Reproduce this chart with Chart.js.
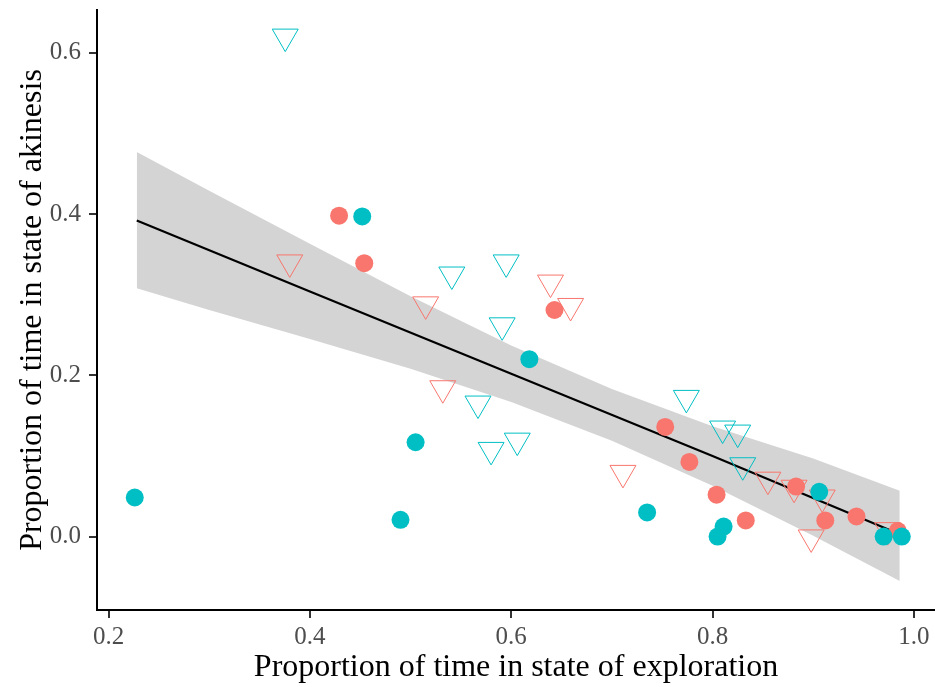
<!DOCTYPE html>
<html>
<head>
<meta charset="utf-8">
<script src="https://cdn.jsdelivr.net/npm/chart.js@4.4.1/dist/chart.umd.min.js"></script>
<style>
  body { margin: 0; background: #fff; }
  #wrap { width: 935px; height: 687px; }
</style>
</head>
<body>
<div id="wrap"><canvas id="myChart" width="935" height="687"></canvas></div>
<script>
// points
var tealCircleX = [0.226, 0.452, 0.490, 0.505, 0.618, 0.735, 0.811, 0.805, 0.906, 0.970, 0.988];
var tealCircleY = [0.0485, 0.397, 0.0208, 0.117, 0.220, 0.030, 0.0125, 0.0, 0.0556, 0.0, 0.0];
var redCircleX = [0.429, 0.454, 0.643, 0.753, 0.777, 0.804, 0.833, 0.883, 0.912, 0.943, 0.984];
var redCircleY = [0.398, 0.339, 0.281, 0.136, 0.0926, 0.052, 0.020, 0.062, 0.020, 0.025, 0.007];
var tealTriX = [0.3755, 0.541, 0.595, 0.591, 0.567, 0.580, 0.606, 0.774, 0.810, 0.825, 0.830];
var tealTriY = [0.620, 0.325, 0.340, 0.262, 0.165, 0.1075, 0.119, 0.172, 0.134, 0.129, 0.0885];
var redTriX = [0.380, 0.515, 0.639, 0.659, 0.532, 0.711, 0.855, 0.881, 0.909, 0.898, 0.974];
var redTriY = [0.340, 0.288, 0.315, 0.286, 0.184, 0.079, 0.0706, 0.0606, 0.0485, -0.001, 0.008];

// fitted line + confidence band
var fitX = [0.228, 0.4, 0.6, 0.8, 0.986];
var fitY = [0.392, 0.304, 0.202, 0.100, 0.003];
var bandX = [0.228, 0.3, 0.4, 0.5, 0.6, 0.7, 0.8, 0.9, 0.986];
var bandUpper = [0.477, 0.429, 0.363, 0.298, 0.237, 0.183, 0.137, 0.097, 0.057];
var bandLower = [0.308, 0.281, 0.245, 0.208, 0.167, 0.119, 0.063, 0.001, -0.055];

var xTicks = [0.2, 0.4, 0.6, 0.8, 1.0];
var yTicks = [0.0, 0.2, 0.4, 0.6];

var RED = "#F8766D", TEAL = "#00BFC4";

function pts(xs, ys) {
  return xs.map(function (x, i) { return { x: x, y: ys[i] }; });
}

function circles(xs, ys, col) {
  return {
    data: pts(xs, ys), order: 1,
    pointStyle: "circle", pointRadius: 9,
    pointBackgroundColor: col, pointBorderWidth: 0
  };
}
function triangles(xs, ys, col) {
  return {
    data: pts(xs, ys), order: 1,
    pointStyle: "triangle", pointRotation: 180, pointRadius: 15,
    pointBackgroundColor: "rgba(0,0,0,0)", pointBorderColor: col, pointBorderWidth: 1
  };
}

var tickFont = { family: "Liberation Serif", size: 25 };
var titleFont = { family: "Liberation Serif", size: 32 };

new Chart("myChart", {
  type: "scatter",
  data: {
    datasets: [
      circles(tealCircleX, tealCircleY, TEAL),
      circles(redCircleX, redCircleY, RED),
      triangles(tealTriX, tealTriY, TEAL),
      triangles(redTriX, redTriY, RED),
      {
        data: pts(fitX, fitY), order: 2, showLine: true,
        borderColor: "#000", borderWidth: 2.2, pointRadius: 0
      },
      {
        data: pts(bandX, bandUpper), order: 3, showLine: true,
        borderWidth: 0, pointRadius: 0, fill: "+1",
        backgroundColor: "#d4d4d4"
      },
      {
        data: pts(bandX, bandLower), order: 3, showLine: true,
        borderWidth: 0, pointRadius: 0
      }
    ]
  },
  options: {
    responsive: false,
    animation: false,
    layout: { autoPadding: false, padding: { top: 10, right: 0, left: 0, bottom: 0 } },
    plugins: { legend: { display: false }, tooltip: { enabled: false } },
    scales: {
      x: {
        type: "linear", min: 0.1885, max: 1.021,
        afterBuildTicks: function (s) { s.ticks = xTicks.map(function (v) { return { value: v }; }); },
        afterFit: function (s) { s.height = 77; s.paddingLeft = 0; s.paddingRight = 0; },
        ticks: {
          callback: function (v) { return v.toFixed(1); },
          font: tickFont, color: "#4d4d4d", padding: 4, maxRotation: 0, autoSkip: false
        },
        grid: { display: true, drawOnChartArea: false, drawTicks: true, tickLength: 8, color: "#333", lineWidth: 2 },
        border: { display: true, color: "#000", width: 2 },
        title: {
          display: true, text: "Proportion of time in state of exploration",
          font: titleFont, color: "#000", padding: { top: 0, bottom: 0 }
        }
      },
      y: {
        type: "linear", min: -0.091, max: 0.653,
        afterBuildTicks: function (s) { s.ticks = yTicks.map(function (v) { return { value: v }; }); },
        afterFit: function (s) { s.width = 97; s.paddingTop = 0; s.paddingBottom = 0; },
        ticks: {
          callback: function (v) { return v.toFixed(1); },
          font: tickFont, color: "#4d4d4d", padding: 8, autoSkip: false
        },
        grid: { display: true, drawOnChartArea: false, drawTicks: true, tickLength: 8, color: "#333", lineWidth: 2 },
        border: { display: true, color: "#000", width: 2 },
        title: {
          display: true, text: "Proportion of time in state of akinesis",
          font: titleFont, color: "#000", padding: { top: 13, bottom: 0 }
        }
      }
    }
  }
});
</script>
</body>
</html>
